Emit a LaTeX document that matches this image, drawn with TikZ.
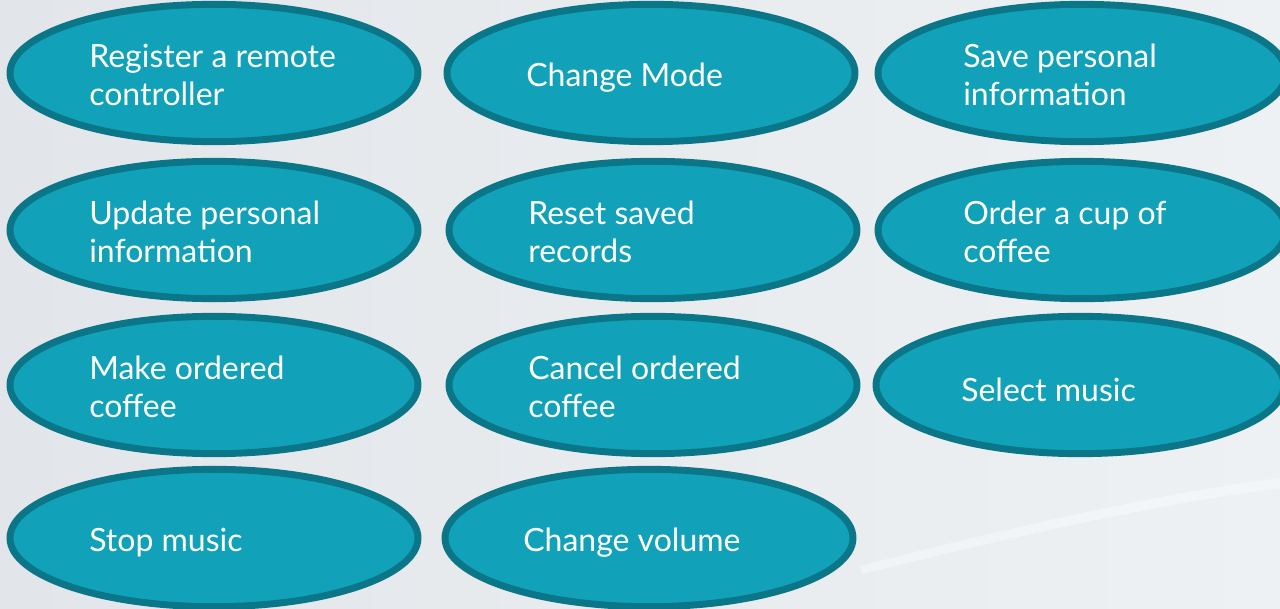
\documentclass[tikz,border=0pt]{standalone}
\usepackage{fontspec}
\setmainfont{Lato}
\usetikzlibrary{shapes.geometric}
\definecolor{ucfill}{HTML}{11A2BA}
\definecolor{ucline}{HTML}{0A7688}
\definecolor{bgA}{HTML}{E2E6EA}
\definecolor{bgB}{HTML}{EEF1F3}
\tikzset{
  uc/.style={ellipse, draw=ucline, fill=ucfill, line width=5.2pt,
    minimum width=306pt, minimum height=103pt, inner sep=0pt, outer sep=0pt},
  uctext/.style={anchor=west, inner sep=0pt, text=white, align=left,
    font=\fontsize{24pt}{28.5pt}\selectfont}
}
\begin{document}
\begin{tikzpicture}[x=0.75pt,y=-0.75pt]
\useasboundingbox (0,0) rectangle (1280,609);
\shade[left color=bgA, right color=bgB] (0,0) rectangle (1280,609);
\fill[white, opacity=0.35] (860,566) .. controls (1000,530) and (1150,495) .. (1280,478)
  -- (1280,488) .. controls (1150,505) and (1000,540) .. (862,574) -- cycle;
% row 1
\node[uc] (e1) at (214,73) {};
\node[uc] (e2) at (651,73) {};
\node[uc] (e3) at (1082,73) {};
% row 2
\node[uc] (e4) at (214,230) {};
\node[uc] (e5) at (653,230) {};
\node[uc] (e6) at (1082,230) {};
% row 3
\node[uc] (e7) at (214,385) {};
\node[uc] (e8) at (653,385) {};
\node[uc] (e9) at (1080,385) {};
% row 4
\node[uc] (e10) at (214,538) {};
\node[uc] (e11) at (649,538) {};
% texts
\node[uctext] (t1) at (89,75) {Register a remote\\controller};
\node[uctext] (t2) at (526,78) {Change Mode};
\node[uctext] (t3) at (963,75) {Save personal\\information};
\node[uctext] (t4) at (89,232) {Update personal\\information};
\node[uctext] (t5) at (528,232) {Reset saved\\records};
\node[uctext] (t6) at (963,232) {Order a cup of\\coffee};
\node[uctext] (t7) at (89,387) {Make ordered\\coffee};
\node[uctext] (t8) at (528,387) {Cancel ordered\\coffee};
\node[uctext] (t9) at (961,390) {Select music};
\node[uctext] (t10) at (89,543) {Stop music};
\node[uctext] (t11) at (523,543) {Change volume};
\end{tikzpicture}
\end{document}
